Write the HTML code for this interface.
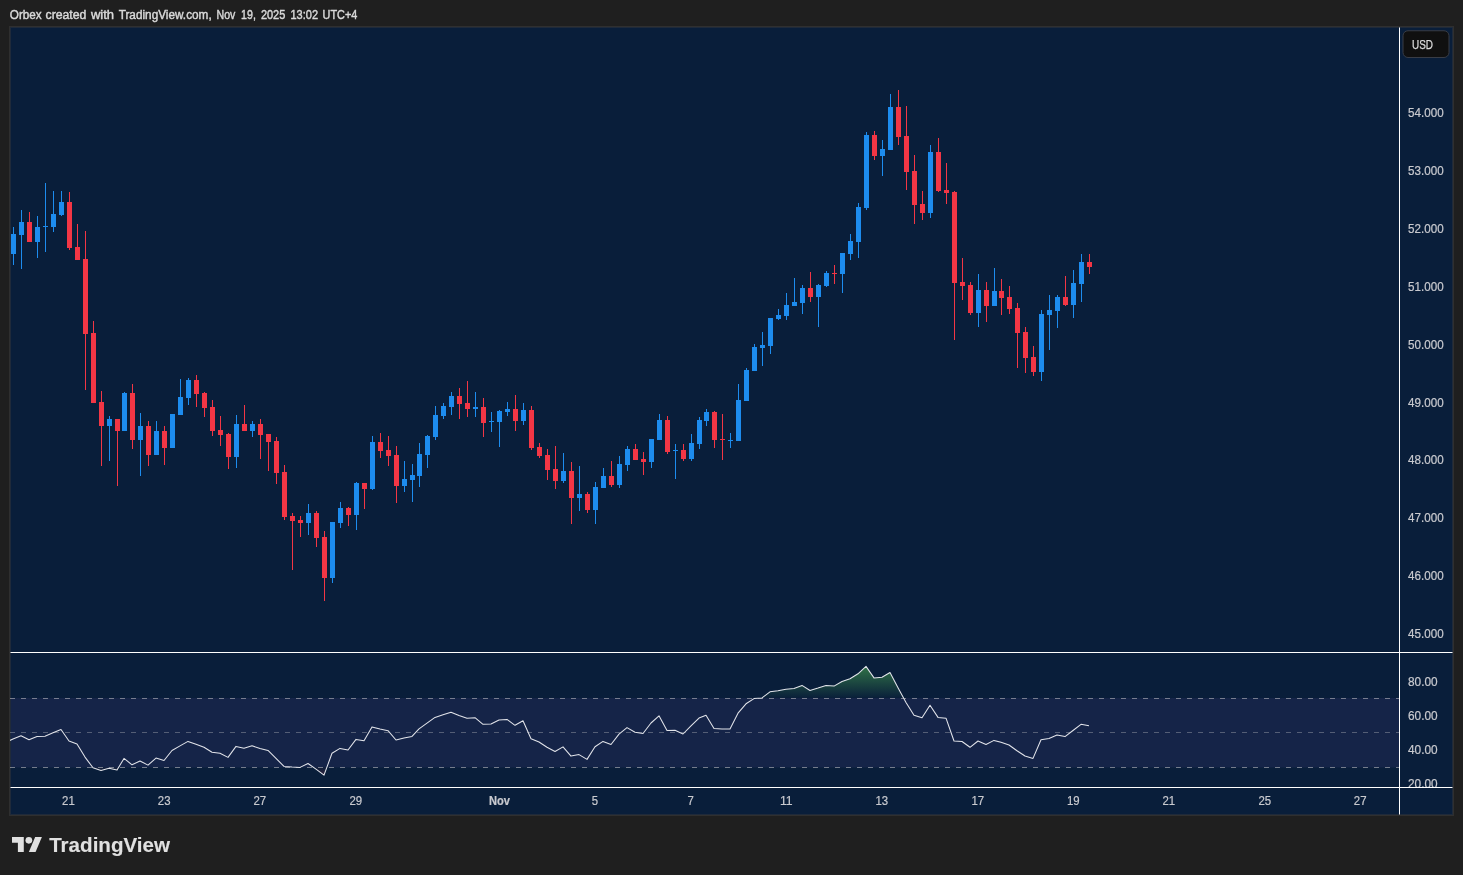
<!DOCTYPE html><html><head><meta charset="utf-8"><title>chart</title><style>
html,body{margin:0;padding:0;background:#1f1f1f;}
body{width:1463px;height:875px;overflow:hidden;position:relative;font-family:"Liberation Sans",sans-serif;}
svg{position:absolute;left:0;top:0;}
text{font-family:"Liberation Sans",sans-serif;}
svg{will-change:transform;}
</style></head><body>
<svg width="1463" height="875" viewBox="0 0 1463 875">
<defs>
<clipPath id="rsiclip"><rect x="10" y="653" width="1389" height="134"/></clipPath>
<clipPath id="axclip"><rect x="1400" y="653" width="53" height="134"/></clipPath>
<linearGradient id="gg" gradientUnits="userSpaceOnUse" x1="0" y1="647.4" x2="0" y2="698.4"><stop offset="0" stop-color="#4caf50" stop-opacity="0.93"/><stop offset="1" stop-color="#4caf50" stop-opacity="0"/></linearGradient>
<linearGradient id="rg" gradientUnits="userSpaceOnUse" x1="0" y1="766.4" x2="0" y2="817.4"><stop offset="0" stop-color="#f23645" stop-opacity="0"/><stop offset="1" stop-color="#f23645" stop-opacity="1"/></linearGradient>
</defs>
<rect x="9" y="26" width="1445" height="790" fill="#2f2f2f"/>
<rect x="10" y="27" width="1443" height="788" fill="#1f2a3a"/>
<rect x="11" y="28" width="1441" height="786" fill="#091e3a"/>
<rect x="11" y="698" width="1388" height="69.5" fill="#152448"/>
<g clip-path="url(#rsiclip)">
<polygon fill="url(#gg)" points="756.3,698.4 762.0,697.9 770.0,691.8 778.0,690.8 786.0,689.2 794.0,688.4 802.0,685.4 810.0,690.5 818.0,688.1 826.0,685.4 834.0,686.1 842.0,681.5 850.0,678.7 858.0,673.8 866.0,666.4 874.0,677.9 882.0,677.2 890.0,672.5 898.0,687.7 903.8,698.4"/>
<polygon fill="url(#rg)" points="92.0,766.4 93.0,767.8 101.0,770.6 109.0,768.3 117.0,770.1 119.2,766.4"/>
<polygon fill="url(#rg)" points="284.0,766.4 292.0,767.1 300.0,767.4 302.1,766.4"/>
<polygon fill="url(#rg)" points="312.1,766.4 316.0,769.1 324.0,775.1 327.2,766.4"/>
<g shape-rendering="crispEdges">
<line x1="10" x2="1399" y1="698.5" y2="698.5" stroke="#c4c4c8" stroke-opacity="0.56" stroke-width="1" stroke-dasharray="5 6"/>
<line x1="10" x2="1399" y1="732.5" y2="732.5" stroke="#c4c4c8" stroke-opacity="0.36" stroke-width="1" stroke-dasharray="5 6"/>
<line x1="10" x2="1399" y1="767.5" y2="767.5" stroke="#c4c4c8" stroke-opacity="0.56" stroke-width="1" stroke-dasharray="5 6"/>
</g>
<polyline fill="none" stroke="#e2e4ea" stroke-width="1.05" stroke-linejoin="round" points="5.0,742.7 13.0,739.1 21.0,735.8 29.0,739.7 37.0,736.4 45.0,736.3 53.0,732.8 61.0,729.5 69.0,741.0 77.0,744.0 85.0,757.1 93.0,767.8 101.0,770.6 109.0,768.3 117.0,770.1 124.0,758.4 132.0,764.8 140.0,761.0 148.0,765.1 156.0,758.1 164.0,760.5 172.0,750.5 180.0,745.9 188.0,741.4 196.0,744.3 204.0,747.3 212.0,752.2 220.0,753.3 228.0,757.4 236.0,746.4 244.0,748.2 252.0,745.8 260.0,748.4 268.0,750.4 276.0,758.4 284.0,766.4 292.0,767.1 300.0,767.4 308.0,763.5 316.0,769.1 324.0,775.1 332.0,753.3 340.0,748.4 348.0,750.0 356.0,739.4 364.0,740.7 372.0,726.9 380.0,729.0 388.0,730.7 396.0,740.0 404.0,738.1 412.0,736.4 419.0,728.9 427.0,723.1 435.0,717.4 443.0,714.8 451.0,712.3 459.0,715.6 467.0,718.2 475.0,717.7 483.0,724.3 491.0,724.0 499.0,720.0 507.0,719.4 515.0,725.3 523.0,720.7 531.0,738.7 539.0,742.0 547.0,747.3 555.0,751.5 563.0,746.9 571.0,756.1 579.0,754.6 587.0,759.4 595.0,746.8 603.0,741.4 611.0,744.5 619.0,734.1 627.0,727.6 635.0,732.3 643.0,733.5 651.0,723.0 659.0,715.8 667.0,730.5 675.0,730.2 683.0,734.0 691.0,725.9 699.0,718.1 706.0,715.3 714.0,728.4 722.0,729.1 730.0,728.9 738.0,713.2 746.0,703.8 754.0,698.6 762.0,697.9 770.0,691.8 778.0,690.8 786.0,689.2 794.0,688.4 802.0,685.4 810.0,690.5 818.0,688.1 826.0,685.4 834.0,686.1 842.0,681.5 850.0,678.7 858.0,673.8 866.0,666.4 874.0,677.9 882.0,677.2 890.0,672.5 898.0,687.7 906.0,702.5 914.0,715.3 922.0,717.8 930.0,705.2 938.0,717.4 946.0,718.2 954.0,741.0 962.0,741.5 970.0,747.3 978.0,741.0 986.0,744.5 994.0,740.4 1001.0,742.2 1009.0,745.0 1017.0,750.7 1025.0,756.0 1033.0,758.4 1041.0,739.7 1049.0,738.4 1057.0,735.0 1065.0,736.6 1073.0,730.5 1081.0,724.3 1089.0,725.8"/>
</g>
<g shape-rendering="crispEdges">
<path fill="#1d8cee" d="M13 227h1v38h-1zM11 234h5v20h-5zM21 210h1v59h-1zM19 222h5v13h-5zM37 216h1v42h-1zM35 227h5v15h-5zM45 183h1v69h-1zM43 226h5v1h-5zM53 191h1v41h-1zM51 214h5v13h-5zM61 191h1v25h-1zM59 202h5v13h-5zM109 416h1v45h-1zM107 419h5v7h-5zM124 392h1v39h-1zM122 393h5v38h-5zM140 413h1v63h-1zM138 426h5v14h-5zM156 421h1v34h-1zM154 431h5v24h-5zM172 414h1v34h-1zM170 414h5v34h-5zM180 379h1v36h-1zM178 397h5v18h-5zM188 378h1v27h-1zM186 380h5v18h-5zM236 415h1v53h-1zM234 424h5v33h-5zM252 421h1v16h-1zM250 424h5v7h-5zM308 504h1v31h-1zM306 513h5v10h-5zM332 522h1v61h-1zM330 522h5v56h-5zM340 502h1v26h-1zM338 508h5v15h-5zM356 482h1v48h-1zM354 483h5v32h-5zM372 436h1v54h-1zM370 442h5v47h-5zM404 461h1v31h-1zM402 479h5v7h-5zM412 464h1v38h-1zM410 475h5v5h-5zM419 443h1v44h-1zM417 454h5v22h-5zM427 435h1v33h-1zM425 436h5v19h-5zM435 406h1v34h-1zM433 415h5v22h-5zM443 403h1v16h-1zM441 406h5v10h-5zM451 392h1v23h-1zM449 396h5v11h-5zM475 392h1v25h-1zM473 407h5v2h-5zM491 412h1v20h-1zM489 421h5v1h-5zM499 410h1v37h-1zM497 411h5v11h-5zM507 402h1v14h-1zM505 409h5v3h-5zM523 403h1v22h-1zM521 410h5v11h-5zM563 453h1v30h-1zM561 471h5v10h-5zM579 466h1v45h-1zM577 494h5v4h-5zM595 482h1v42h-1zM593 487h5v23h-5zM603 468h1v20h-1zM601 476h5v12h-5zM619 456h1v32h-1zM617 464h5v21h-5zM627 446h1v25h-1zM625 449h5v16h-5zM651 439h1v29h-1zM649 439h5v23h-5zM659 414h1v26h-1zM657 420h5v20h-5zM675 444h1v35h-1zM673 450h5v1h-5zM691 434h1v27h-1zM689 443h5v16h-5zM699 417h1v32h-1zM697 420h5v24h-5zM706 409h1v17h-1zM704 412h5v9h-5zM730 433h1v15h-1zM728 440h5v1h-5zM738 384h1v57h-1zM736 400h5v41h-5zM746 368h1v33h-1zM744 370h5v31h-5zM754 344h1v27h-1zM752 347h5v24h-5zM762 332h1v34h-1zM760 345h5v3h-5zM770 318h1v36h-1zM768 318h5v28h-5zM778 309h1v11h-1zM776 315h5v4h-5zM786 293h1v27h-1zM784 305h5v11h-5zM794 278h1v28h-1zM792 302h5v4h-5zM802 285h1v29h-1zM800 288h5v15h-5zM818 284h1v43h-1zM816 285h5v12h-5zM826 271h1v16h-1zM824 273h5v13h-5zM842 253h1v40h-1zM840 253h5v21h-5zM850 234h1v26h-1zM848 241h5v13h-5zM858 203h1v55h-1zM856 207h5v35h-5zM866 132h1v78h-1zM864 135h5v73h-5zM882 140h1v36h-1zM880 149h5v7h-5zM890 94h1v56h-1zM888 107h5v43h-5zM930 145h1v73h-1zM928 152h5v61h-5zM978 274h1v53h-1zM976 290h5v23h-5zM994 268h1v38h-1zM992 291h5v15h-5zM1041 310h1v71h-1zM1039 314h5v58h-5zM1049 295h1v55h-1zM1047 310h5v5h-5zM1057 295h1v33h-1zM1055 297h5v14h-5zM1073 270h1v48h-1zM1071 283h5v22h-5zM1081 254h1v48h-1zM1079 262h5v22h-5z"/>
<path fill="#f23645" d="M29 212h1v30h-1zM27 222h5v20h-5zM69 192h1v58h-1zM67 202h5v46h-5zM77 224h1v36h-1zM75 247h5v13h-5zM85 231h1v159h-1zM83 259h5v75h-5zM93 321h1v82h-1zM91 333h5v70h-5zM101 391h1v75h-1zM99 402h5v24h-5zM117 419h1v67h-1zM115 419h5v12h-5zM132 384h1v65h-1zM130 393h5v47h-5zM148 421h1v45h-1zM146 426h5v29h-5zM164 426h1v39h-1zM162 431h5v17h-5zM196 375h1v32h-1zM194 380h5v14h-5zM204 392h1v25h-1zM202 393h5v15h-5zM212 400h1v36h-1zM210 407h5v24h-5zM220 416h1v30h-1zM218 430h5v5h-5zM228 433h1v36h-1zM226 434h5v23h-5zM244 405h1v26h-1zM242 424h5v7h-5zM260 419h1v40h-1zM258 424h5v11h-5zM268 434h1v37h-1zM266 434h5v8h-5zM276 437h1v47h-1zM274 441h5v32h-5zM284 465h1v55h-1zM282 472h5v45h-5zM292 513h1v57h-1zM290 516h5v5h-5zM300 516h1v21h-1zM298 520h5v3h-5zM316 511h1v36h-1zM314 513h5v25h-5zM324 531h1v70h-1zM322 537h5v41h-5zM348 507h1v19h-1zM346 508h5v7h-5zM364 483h1v26h-1zM362 483h5v6h-5zM380 433h1v25h-1zM378 442h5v9h-5zM388 436h1v30h-1zM386 450h5v6h-5zM396 446h1v57h-1zM394 455h5v31h-5zM459 388h1v31h-1zM457 396h5v8h-5zM467 381h1v36h-1zM465 403h5v6h-5zM483 398h1v39h-1zM481 407h5v16h-5zM515 395h1v36h-1zM513 409h5v12h-5zM531 406h1v44h-1zM529 410h5v38h-5zM539 443h1v15h-1zM537 447h5v9h-5zM547 449h1v31h-1zM545 455h5v15h-5zM555 446h1v43h-1zM553 469h5v12h-5zM571 462h1v62h-1zM569 471h5v27h-5zM587 492h1v21h-1zM585 494h5v16h-5zM611 461h1v26h-1zM609 476h5v9h-5zM635 444h1v16h-1zM633 449h5v11h-5zM643 452h1v23h-1zM641 459h5v3h-5zM667 416h1v38h-1zM665 420h5v32h-5zM683 444h1v17h-1zM681 450h5v9h-5zM714 411h1v37h-1zM712 412h5v28h-5zM722 414h1v46h-1zM720 439h5v1h-5zM810 272h1v30h-1zM808 288h5v9h-5zM834 265h1v19h-1zM832 273h5v1h-5zM874 131h1v29h-1zM872 135h5v21h-5zM898 90h1v55h-1zM896 107h5v30h-5zM906 106h1v84h-1zM904 136h5v36h-5zM914 155h1v69h-1zM912 171h5v34h-5zM922 191h1v29h-1zM920 204h5v9h-5zM938 138h1v54h-1zM936 152h5v39h-5zM946 163h1v41h-1zM944 190h5v3h-5zM954 191h1v149h-1zM952 192h5v91h-5zM962 258h1v42h-1zM960 282h5v4h-5zM970 282h1v33h-1zM968 285h5v28h-5zM986 282h1v40h-1zM984 290h5v16h-5zM1001 279h1v36h-1zM999 291h5v7h-5zM1009 286h1v28h-1zM1007 297h5v12h-5zM1017 303h1v65h-1zM1015 308h5v25h-5zM1025 327h1v46h-1zM1023 332h5v26h-5zM1033 346h1v30h-1zM1031 357h5v15h-5zM1065 276h1v30h-1zM1063 297h5v8h-5zM1089 254h1v20h-1zM1087 262h5v5h-5z"/>
<rect x="10" y="652" width="1443" height="1" fill="#8e939b"/>
<rect x="10" y="787" width="1443" height="1" fill="#8e939b"/>
<rect x="1399" y="27" width="1" height="788" fill="#8e939b"/>
<rect x="11" y="652" width="1441" height="1" fill="#ffffff"/>
<rect x="11" y="787" width="1441" height="1" fill="#ffffff"/>
<rect x="1399" y="28" width="1" height="786" fill="#ffffff"/>
</g>
<text x="1408" y="117.0" font-size="12" fill="#c9cacf" stroke="#c9cacf" stroke-width="0.2" textLength="35.6" lengthAdjust="spacingAndGlyphs">54.000</text>
<text x="1408" y="174.9" font-size="12" fill="#c9cacf" stroke="#c9cacf" stroke-width="0.2" textLength="35.6" lengthAdjust="spacingAndGlyphs">53.000</text>
<text x="1408" y="232.8" font-size="12" fill="#c9cacf" stroke="#c9cacf" stroke-width="0.2" textLength="35.6" lengthAdjust="spacingAndGlyphs">52.000</text>
<text x="1408" y="290.7" font-size="12" fill="#c9cacf" stroke="#c9cacf" stroke-width="0.2" textLength="35.6" lengthAdjust="spacingAndGlyphs">51.000</text>
<text x="1408" y="348.6" font-size="12" fill="#c9cacf" stroke="#c9cacf" stroke-width="0.2" textLength="35.6" lengthAdjust="spacingAndGlyphs">50.000</text>
<text x="1408" y="406.5" font-size="12" fill="#c9cacf" stroke="#c9cacf" stroke-width="0.2" textLength="35.6" lengthAdjust="spacingAndGlyphs">49.000</text>
<text x="1408" y="464.4" font-size="12" fill="#c9cacf" stroke="#c9cacf" stroke-width="0.2" textLength="35.6" lengthAdjust="spacingAndGlyphs">48.000</text>
<text x="1408" y="522.3" font-size="12" fill="#c9cacf" stroke="#c9cacf" stroke-width="0.2" textLength="35.6" lengthAdjust="spacingAndGlyphs">47.000</text>
<text x="1408" y="580.2" font-size="12" fill="#c9cacf" stroke="#c9cacf" stroke-width="0.2" textLength="35.6" lengthAdjust="spacingAndGlyphs">46.000</text>
<text x="1408" y="638.1" font-size="12" fill="#c9cacf" stroke="#c9cacf" stroke-width="0.2" textLength="35.6" lengthAdjust="spacingAndGlyphs">45.000</text>
<g clip-path="url(#axclip)">
<text x="1408" y="685.8" font-size="12" fill="#c9cacf" stroke="#c9cacf" stroke-width="0.2" textLength="29.6" lengthAdjust="spacingAndGlyphs">80.00</text>
<text x="1408" y="719.8" font-size="12" fill="#c9cacf" stroke="#c9cacf" stroke-width="0.2" textLength="29.6" lengthAdjust="spacingAndGlyphs">60.00</text>
<text x="1408" y="753.8" font-size="12" fill="#c9cacf" stroke="#c9cacf" stroke-width="0.2" textLength="29.6" lengthAdjust="spacingAndGlyphs">40.00</text>
<text x="1408" y="787.8" font-size="12" fill="#c9cacf" stroke="#c9cacf" stroke-width="0.2" textLength="29.6" lengthAdjust="spacingAndGlyphs">20.00</text>
</g>
<text x="62.1" y="805" font-size="12" fill="#c9cacf" stroke="#c9cacf" stroke-width="0.2" textLength="12.7" lengthAdjust="spacingAndGlyphs">21</text>
<text x="157.8" y="805" font-size="12" fill="#c9cacf" stroke="#c9cacf" stroke-width="0.2" textLength="12.7" lengthAdjust="spacingAndGlyphs">23</text>
<text x="253.5" y="805" font-size="12" fill="#c9cacf" stroke="#c9cacf" stroke-width="0.2" textLength="12.7" lengthAdjust="spacingAndGlyphs">27</text>
<text x="349.4" y="805" font-size="12" fill="#c9cacf" stroke="#c9cacf" stroke-width="0.2" textLength="12.7" lengthAdjust="spacingAndGlyphs">29</text>
<text x="489.0" y="805" font-size="12" fill="#c9cacf" stroke="#c9cacf" stroke-width="0.2" font-weight="bold" textLength="21.0" lengthAdjust="spacingAndGlyphs">Nov</text>
<text x="591.8" y="805" font-size="12" fill="#c9cacf" stroke="#c9cacf" stroke-width="0.2" textLength="6.3" lengthAdjust="spacingAndGlyphs">5</text>
<text x="687.6" y="805" font-size="12" fill="#c9cacf" stroke="#c9cacf" stroke-width="0.2" textLength="6.3" lengthAdjust="spacingAndGlyphs">7</text>
<text x="779.9" y="805" font-size="12" fill="#c9cacf" stroke="#c9cacf" stroke-width="0.2" textLength="12.7" lengthAdjust="spacingAndGlyphs">11</text>
<text x="875.5" y="805" font-size="12" fill="#c9cacf" stroke="#c9cacf" stroke-width="0.2" textLength="12.7" lengthAdjust="spacingAndGlyphs">13</text>
<text x="971.4" y="805" font-size="12" fill="#c9cacf" stroke="#c9cacf" stroke-width="0.2" textLength="12.7" lengthAdjust="spacingAndGlyphs">17</text>
<text x="1067.0" y="805" font-size="12" fill="#c9cacf" stroke="#c9cacf" stroke-width="0.2" textLength="12.7" lengthAdjust="spacingAndGlyphs">19</text>
<text x="1162.4" y="805" font-size="12" fill="#c9cacf" stroke="#c9cacf" stroke-width="0.2" textLength="12.7" lengthAdjust="spacingAndGlyphs">21</text>
<text x="1258.4" y="805" font-size="12" fill="#c9cacf" stroke="#c9cacf" stroke-width="0.2" textLength="12.7" lengthAdjust="spacingAndGlyphs">25</text>
<text x="1353.8" y="805" font-size="12" fill="#c9cacf" stroke="#c9cacf" stroke-width="0.2" textLength="12.7" lengthAdjust="spacingAndGlyphs">27</text>
<rect x="1403" y="30.75" width="46" height="26.75" rx="5" ry="5" fill="#101010" stroke="#393d46" stroke-width="1"/>
<text x="1412" y="49" font-size="12" fill="#dcdcdc" stroke="#dcdcdc" stroke-width="0.25" textLength="21" lengthAdjust="spacingAndGlyphs">USD</text>
<text x="9.8" y="19" font-size="12" fill="#dadada" stroke="#dadada" stroke-width="0.42" textLength="31.9" lengthAdjust="spacingAndGlyphs">Orbex</text>
<text x="45.5" y="19" font-size="12" fill="#dadada" stroke="#dadada" stroke-width="0.42" textLength="40.9" lengthAdjust="spacingAndGlyphs">created</text>
<text x="90.9" y="19" font-size="12" fill="#dadada" stroke="#dadada" stroke-width="0.42" textLength="23.2" lengthAdjust="spacingAndGlyphs">with</text>
<text x="118.7" y="19" font-size="12" fill="#dadada" stroke="#dadada" stroke-width="0.42" textLength="93.0" lengthAdjust="spacingAndGlyphs">TradingView.com,</text>
<text x="216.6" y="19" font-size="12" fill="#dadada" stroke="#dadada" stroke-width="0.42" textLength="18.8" lengthAdjust="spacingAndGlyphs">Nov</text>
<text x="241.1" y="19" font-size="12" fill="#dadada" stroke="#dadada" stroke-width="0.42" textLength="14.8" lengthAdjust="spacingAndGlyphs">19,</text>
<text x="260.9" y="19" font-size="12" fill="#dadada" stroke="#dadada" stroke-width="0.42" textLength="24.4" lengthAdjust="spacingAndGlyphs">2025</text>
<text x="290.5" y="19" font-size="12" fill="#dadada" stroke="#dadada" stroke-width="0.42" textLength="27.5" lengthAdjust="spacingAndGlyphs">13:02</text>
<text x="322.6" y="19" font-size="12" fill="#dadada" stroke="#dadada" stroke-width="0.42" textLength="34.7" lengthAdjust="spacingAndGlyphs">UTC+4</text>
<g transform="translate(12,833.67) scale(0.842,0.8333)" fill="#e0e0e0"><path d="M14 22H7V11H0V4h14v18z"/><path d="M28 22h-8l7.5-18h8L28 22z"/><circle cx="20" cy="8" r="4"/></g>
<text x="49.2" y="851.7" font-size="20.5" font-weight="bold" fill="#e0e0e0" stroke="#e0e0e0" stroke-width="0.12" textLength="120.8" lengthAdjust="spacingAndGlyphs">TradingView</text>
</svg></body></html>
